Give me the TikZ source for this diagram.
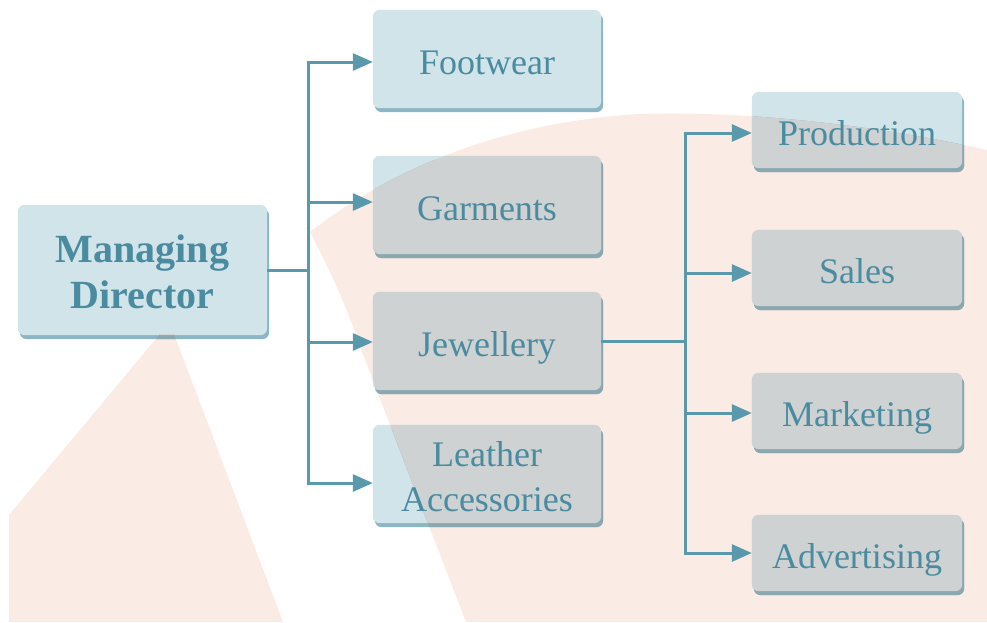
\documentclass[tikz,border=0pt]{standalone}
\usepackage{fontspec}
\setmainfont{Liberation Serif}
\usetikzlibrary{arrows.meta}
\definecolor{pinkbg}{HTML}{FBEBE5}
\definecolor{boxblue}{HTML}{D1E4EA}
\definecolor{boxgray}{HTML}{CFD2D3}
\definecolor{shadowblue}{HTML}{8DB6C4}
\definecolor{shadowgray}{HTML}{8BA8B0}
\definecolor{textc}{HTML}{4A8BA0}
\definecolor{linec}{HTML}{5A98AB}
\pgfdeclarelayer{background}
\pgfsetlayers{background,main}
\tikzset{
  unit/.style={draw=none, inner sep=0pt, text=textc, align=center,
    font=\fontsize{36}{45}\selectfont, text height=31pt, text depth=1pt},
  bigunit/.style={unit, minimum width=228pt, minimum height=98pt},
  smallunit/.style={unit, minimum width=210pt, minimum height=76pt},
  conn/.style={draw=linec, line width=3pt},
  arr/.style={conn, -{Triangle[length=20pt,width=17pt]}},
}
\newcommand\pinkpath{(160,334) -- (174,334) -- (283,622) -- (9,622) -- (9,515) -- cycle
 (310,232) .. controls (322,255) and (345,300) .. (362,352) -- (466,622) -- (987,622) -- (987,150) .. controls (900,130) and (760,110) .. (640,114) .. controls (500,122) and (390,170) .. (310,232) -- cycle}
\begin{document}
\begin{tikzpicture}[x=1pt,y=-1pt]
\useasboundingbox (0,0) rectangle (987,622);
\node[unit, minimum width=249pt, minimum height=130pt,
  font=\bfseries\fontsize{40}{46}\selectfont, text height=77pt] (md) at (142.5,270) {Managing\\Director};
\node[bigunit] (foot) at (487,59) {Footwear};
\node[bigunit] (garm) at (487,205) {Garments};
\node[bigunit] (jew) at (487,341) {Jewellery};
\node[bigunit, text height=76pt] (leath) at (487,474) {Leather\\Accessories};
\node[smallunit] (prod) at (857,130) {Production};
\node[smallunit] (sales) at (857,268) {Sales};
\node[smallunit] (mark) at (857,411) {Marketing};
\node[smallunit] (adv) at (857,553) {Advertising};
\begin{pgfonlayer}{background}
\fill[white] (0,0) rectangle (987,622);
\fill[pinkbg] \pinkpath;
\foreach \n in {md,foot,garm,jew,leath,prod,sales,mark,adv}{
  \fill[shadowblue, rounded corners=7pt] ([shift={(2,4)}]\n.north west) rectangle ([shift={(2,4)}]\n.south east);
  \fill[boxblue, rounded corners=7pt] (\n.north west) rectangle (\n.south east);
}
\begin{scope}
\clip \pinkpath;
\foreach \n in {md,foot,garm,jew,leath,prod,sales,mark,adv}{
  \fill[shadowgray, rounded corners=7pt] ([shift={(2,4)}]\n.north west) rectangle ([shift={(2,4)}]\n.south east);
  \fill[boxgray, rounded corners=7pt] (\n.north west) rectangle (\n.south east);
}
\end{scope}
\end{pgfonlayer}
\coordinate (s1) at (308,62);
\coordinate (s2) at (308,202);
\coordinate (s3) at (308,342);
\coordinate (s4) at (308,483);
\draw[conn] (md.east) -- (md.east -| s1);
\draw[conn, line cap=rect] (s1) -- (s4);
\draw[arr] (s1) -- (s1 -| foot.west);
\draw[arr] (s2) -- (s2 -| garm.west);
\draw[arr] (s3) -- (s3 -| jew.west);
\draw[arr] (s4) -- (s4 -| leath.west);
\coordinate (t1) at (685,133);
\coordinate (t2) at (685,273);
\coordinate (t3) at (685,413);
\coordinate (t4) at (685,553);
\draw[conn] (jew.east) -- (jew.east -| t1);
\draw[conn, line cap=rect] (t1) -- (t4);
\draw[arr] (t1) -- (t1 -| prod.west);
\draw[arr] (t2) -- (t2 -| sales.west);
\draw[arr] (t3) -- (t3 -| mark.west);
\draw[arr] (t4) -- (t4 -| adv.west);
\end{tikzpicture}
\end{document}
